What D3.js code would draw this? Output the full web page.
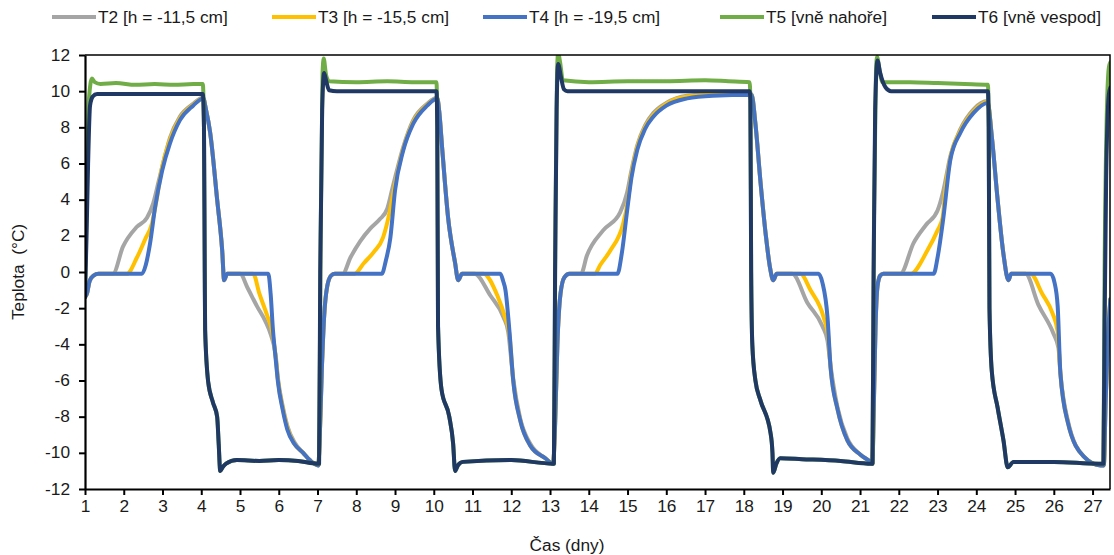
<!DOCTYPE html>
<html><head><meta charset="utf-8">
<script src="https://cdn.jsdelivr.net/npm/d3@7"></script>
<style>
html,body{margin:0;padding:0;background:#fff;}
svg{display:block;font-family:"Liberation Sans",Arial,sans-serif;}
</style></head><body>
<svg id="chart" width="1114" height="555"></svg>
<script>
// ---------- data (day, °C) ----------
const xTicks = d3.range(1, 28);
const yTicks = d3.range(-12, 13, 2);
const seriesNames = ["T2 [h = -11,5 cm]", "T3 [h = -15,5 cm]", "T4 [h = -19,5 cm]", "T5 [vně nahoře]", "T6 [vně vespod]"];
const seriesColors = ["#A5A5A5", "#FFC000", "#4472C4", "#70AD47", "#203864"];

const T4 = [
  [1.00,-1.4],[1.05,-1.2],[1.12,-0.5],[1.22,-0.2],[1.35,-0.1],[2.47,-0.1],[2.57,0.4],[2.68,1.6],[2.81,3.6],[2.99,5.6],[3.19,7.1],[3.45,8.4],[3.79,9.2],[4.05,9.6],
  [4.12,9.0],[4.23,7.7],[4.41,4.0],[4.54,1.2],[4.59,-0.45],[4.67,-0.1],[5.73,-0.1],[5.79,-1.2],[5.85,-3.2],[5.92,-4.8],[5.98,-6.1],[6.1,-7.6],[6.22,-8.7],[6.4,-9.5],[6.63,-10.0],[6.8,-10.4],[7.02,-10.7],
  [7.06,-9.0],[7.11,-5.5],[7.17,-2.5],[7.25,-0.8],[7.35,-0.2],[7.45,-0.1],[8.66,-0.1],[8.76,0.6],[8.88,1.9],[9.00,4.5],[9.21,6.7],[9.47,8.2],[9.83,9.2],[10.09,9.6],
  [10.14,8.9],[10.22,6.75],[10.37,3.0],[10.55,0.5],[10.63,-0.45],[10.73,-0.1],[11.72,-0.1],[11.79,-0.5],[11.85,-1.0],[11.95,-3.2],[12.05,-6.0],[12.23,-8.2],[12.49,-9.6],[12.88,-10.3],[13.08,-10.6],
  [13.13,-8.5],[13.19,-4.0],[13.27,-1.2],[13.37,-0.3],[13.5,-0.1],[14.74,-0.1],[14.85,1.0],[14.99,3.4],[15.1,5.2],[15.25,6.75],[15.45,7.9],[15.67,8.6],[16.0,9.2],[16.54,9.6],[17.2,9.75],[18.2,9.8],
  [18.3,8.2],[18.43,5.0],[18.57,2.0],[18.68,0.2],[18.76,-0.45],[18.85,-0.1],[19.93,-0.1],[20.03,-0.6],[20.16,-2.5],[20.24,-5.3],[20.42,-7.6],[20.67,-9.3],[21.01,-10.1],[21.27,-10.5],[21.32,-10.6],
  [21.35,-8.0],[21.4,-3.0],[21.45,-0.8],[21.52,-0.2],[21.6,-0.1],[22.9,-0.1],[23.0,0.8],[23.15,3.0],[23.33,6.2],[23.59,7.7],[23.93,8.8],[24.29,9.35],
  [24.4,7.5],[24.55,4.0],[24.7,1.0],[24.83,-0.45],[24.9,-0.1],[25.92,-0.1],[26.02,-0.6],[26.10,-1.9],[26.17,-5.6],[26.36,-8.3],[26.77,-10.2],[27.21,-10.7],[27.29,-10.7],
  [27.34,-7.0],[27.4,-3.5],[27.46,-1.5]
];
const T3 = [
  [1.00,-1.4],[1.05,-1.2],[1.12,-0.5],[1.22,-0.2],[1.35,-0.1],[2.08,-0.1],[2.34,0.8],[2.55,1.8],[2.73,2.7],[2.84,3.9],[2.99,5.8],[3.19,7.3],[3.45,8.5],[3.79,9.25],[4.05,9.6],
  [4.12,9.0],[4.23,7.7],[4.41,4.0],[4.54,1.2],[4.59,-0.45],[4.67,-0.1],[5.34,-0.1],[5.5,-1.2],[5.7,-2.4],[5.83,-3.3],[5.92,-4.7],[5.98,-6.0],[6.1,-7.5],[6.22,-8.6],[6.4,-9.5],[6.63,-10.0],[6.8,-10.4],[7.02,-10.7],
  [7.06,-9.0],[7.11,-5.5],[7.17,-2.5],[7.25,-0.8],[7.35,-0.2],[7.45,-0.1],[7.95,-0.1],[8.2,0.5],[8.45,1.1],[8.69,1.9],[8.85,3.2],[8.95,4.3],[9.21,6.8],[9.47,8.3],[9.83,9.25],[10.09,9.6],
  [10.14,8.9],[10.22,6.75],[10.37,3.0],[10.55,0.5],[10.63,-0.45],[10.73,-0.1],[11.28,-0.1],[11.64,-1.3],[11.84,-2.5],[11.95,-3.4],[12.05,-6.0],[12.23,-8.2],[12.49,-9.6],[12.88,-10.3],[13.08,-10.6],
  [13.13,-8.5],[13.19,-4.0],[13.27,-1.2],[13.37,-0.3],[13.5,-0.1],[14.15,-0.1],[14.3,0.4],[14.56,1.2],[14.89,2.7],[15.0,3.8],[15.1,5.4],[15.25,6.9],[15.45,8.0],[15.67,8.7],[16.0,9.3],[16.54,9.7],[17.2,9.8],[18.2,9.8],
  [18.3,8.2],[18.43,5.0],[18.57,2.0],[18.68,0.2],[18.76,-0.45],[18.85,-0.1],[19.46,-0.1],[19.72,-1.0],[20.06,-2.5],[20.18,-3.6],[20.24,-5.3],[20.42,-7.6],[20.67,-9.3],[21.01,-10.1],[21.27,-10.5],[21.32,-10.6],
  [21.35,-8.0],[21.4,-3.0],[21.45,-0.8],[21.52,-0.2],[21.6,-0.1],[22.3,-0.1],[22.74,1.2],[23.0,2.3],[23.13,3.0],[23.2,4.5],[23.33,6.3],[23.59,7.8],[23.93,8.9],[24.29,9.4],
  [24.4,7.5],[24.55,4.0],[24.7,1.0],[24.83,-0.45],[24.9,-0.1],[25.4,-0.1],[25.7,-1.2],[25.97,-2.3],[26.1,-3.3],[26.17,-5.6],[26.36,-8.3],[26.77,-10.2],[27.21,-10.7],[27.29,-10.7],
  [27.34,-7.0],[27.4,-3.5],[27.46,-1.5]
];
const T2 = [
  [1.00,-1.4],[1.05,-1.2],[1.12,-0.5],[1.22,-0.2],[1.35,-0.1],[1.72,-0.1],[1.98,1.4],[2.34,2.5],[2.6,3.0],[2.76,3.8],[2.9,5.0],[3.05,6.3],[3.19,7.4],[3.45,8.6],[3.79,9.3],[4.05,9.65],
  [4.12,9.0],[4.23,7.7],[4.41,4.0],[4.54,1.2],[4.59,-0.45],[4.67,-0.1],[5.0,-0.1],[5.2,-0.9],[5.44,-1.9],[5.65,-2.7],[5.8,-3.5],[5.92,-4.6],[5.98,-5.9],[6.1,-7.4],[6.22,-8.5],[6.4,-9.4],[6.63,-10.0],[6.8,-10.4],[7.02,-10.7],
  [7.06,-9.0],[7.11,-5.5],[7.17,-2.5],[7.25,-0.8],[7.35,-0.2],[7.45,-0.1],[7.65,-0.1],[7.85,0.8],[8.1,1.7],[8.36,2.4],[8.6,2.9],[8.8,3.5],[8.93,4.6],[9.21,6.9],[9.47,8.4],[9.83,9.3],[10.09,9.65],
  [10.14,8.9],[10.22,6.75],[10.37,3.0],[10.55,0.5],[10.63,-0.45],[10.73,-0.1],[11.05,-0.1],[11.46,-1.3],[11.8,-2.5],[11.92,-3.3],[12.05,-5.9],[12.23,-8.1],[12.49,-9.5],[12.88,-10.3],[13.08,-10.6],
  [13.13,-8.5],[13.19,-4.0],[13.27,-1.2],[13.37,-0.3],[13.5,-0.1],[13.8,-0.1],[13.95,0.9],[14.37,2.3],[14.81,3.3],[14.99,4.4],[15.1,5.6],[15.25,7.0],[15.45,8.1],[15.67,8.8],[16.0,9.35],[16.54,9.75],[17.2,9.85],[18.2,9.85],
  [18.3,8.2],[18.43,5.0],[18.57,2.0],[18.68,0.2],[18.76,-0.45],[18.85,-0.1],[19.25,-0.1],[19.64,-1.7],[20.03,-3.0],[20.16,-3.8],[20.24,-5.2],[20.42,-7.5],[20.67,-9.2],[21.01,-10.1],[21.27,-10.5],[21.32,-10.6],
  [21.35,-8.0],[21.4,-3.0],[21.45,-0.8],[21.52,-0.2],[21.6,-0.1],[22.04,-0.1],[22.38,1.6],[22.7,2.6],[23.0,3.4],[23.15,4.5],[23.33,6.4],[23.59,7.9],[23.93,9.0],[24.29,9.45],
  [24.4,7.5],[24.55,4.0],[24.7,1.0],[24.83,-0.45],[24.9,-0.1],[25.27,-0.1],[25.6,-1.8],[25.99,-3.4],[26.12,-4.2],[26.17,-5.6],[26.36,-8.2],[26.77,-10.2],[27.21,-10.7],[27.29,-10.7],
  [27.34,-7.0],[27.4,-3.5],[27.46,-1.5]
];
const T5 = [
  [1.00,-1.2],[1.05,5.0],[1.1,9.5],[1.18,10.7],[1.25,10.5],[1.4,10.4],[1.8,10.45],[2.3,10.35],[2.8,10.4],[3.3,10.35],[3.8,10.4],[4.04,10.4],
  [4.07,8.0],[4.09,0.0],[4.1,-3.2],[4.18,-6.1],[4.3,-7.2],[4.41,-8.0],[4.45,-9.5],[4.49,-11.0],[4.55,-10.8],[4.64,-10.6],[4.92,-10.4],[5.5,-10.45],[6.0,-10.4],[6.5,-10.45],[7.02,-10.6],
  [7.04,-10.6],[7.08,2.0],[7.13,11.0],[7.16,11.8],[7.22,10.9],[7.3,10.55],[8.0,10.5],[8.8,10.55],[9.5,10.5],[10.07,10.5],
  [10.09,8.0],[10.11,-3.0],[10.2,-6.5],[10.4,-8.0],[10.5,-9.5],[10.55,-11.0],[10.62,-10.7],[10.75,-10.5],[12.0,-10.4],[13.08,-10.6],
  [13.1,-10.6],[13.14,3.0],[13.18,11.0],[13.21,12.1],[13.26,11.6],[13.33,10.6],[14.0,10.5],[15.0,10.55],[16.0,10.55],[17.0,10.6],[17.6,10.55],[18.15,10.5],
  [18.17,9.5],[18.19,0.0],[18.22,-4.0],[18.3,-6.0],[18.43,-7.1],[18.69,-8.9],[18.74,-10.0],[18.76,-11.1],[18.84,-10.6],[18.94,-10.3],[19.5,-10.35],[20.5,-10.45],[21.3,-10.6],
  [21.32,-10.6],[21.36,3.0],[21.41,11.0],[21.44,11.9],[21.5,11.2],[21.58,10.5],[22.3,10.5],[23.0,10.45],[23.7,10.4],[24.3,10.35],
  [24.32,8.0],[24.34,-2.0],[24.4,-5.5],[24.55,-7.5],[24.7,-9.3],[24.81,-10.8],[24.96,-10.5],[26.0,-10.5],[27.16,-10.6],[27.28,-10.6],
  [27.31,0.0],[27.36,8.0],[27.42,11.3],[27.46,11.6]
];
const T6 = [
  [1.00,-1.4],[1.04,2.0],[1.08,6.0],[1.13,9.2],[1.2,9.7],[1.31,9.85],[2.0,9.85],[3.0,9.85],[4.04,9.85],
  [4.07,8.0],[4.09,0.0],[4.1,-3.2],[4.18,-6.1],[4.3,-7.2],[4.41,-8.0],[4.45,-9.5],[4.49,-11.0],[4.55,-10.8],[4.64,-10.6],[4.92,-10.4],[5.5,-10.45],[6.0,-10.4],[6.5,-10.45],[7.02,-10.6],
  [7.04,-10.6],[7.07,0.0],[7.12,9.0],[7.17,11.0],[7.22,10.6],[7.3,10.05],[7.5,10.0],[10.07,10.0],
  [10.09,8.0],[10.11,-3.0],[10.2,-6.5],[10.4,-8.0],[10.5,-9.5],[10.55,-11.0],[10.62,-10.7],[10.75,-10.5],[12.0,-10.4],[13.08,-10.6],
  [13.1,-10.6],[13.13,0.0],[13.17,9.0],[13.21,11.5],[13.28,10.8],[13.36,10.1],[13.45,10.0],[18.15,10.0],
  [18.17,9.5],[18.19,0.0],[18.22,-4.0],[18.3,-6.0],[18.43,-7.1],[18.69,-8.9],[18.74,-10.0],[18.76,-11.1],[18.84,-10.6],[18.94,-10.3],[19.5,-10.35],[20.5,-10.45],[21.3,-10.6],
  [21.32,-10.6],[21.35,0.0],[21.39,9.0],[21.45,11.7],[21.52,11.0],[21.66,10.2],[21.8,10.0],[24.3,10.0],
  [24.32,8.0],[24.34,-2.0],[24.4,-5.5],[24.55,-7.5],[24.7,-9.3],[24.81,-10.8],[24.96,-10.5],[26.0,-10.5],[27.16,-10.6],[27.28,-10.6],
  [27.31,-3.0],[27.35,5.0],[27.42,9.8],[27.46,10.2]
];
const seriesData = [T2, T3, T4, T5, T6];

// ---------- layout ----------
const W = 1114, H = 555;
const m = {left: 85, right: 4, top: 55, bottom: 66};
const FONT = 16, STRETCH = 1.08;
const svg = d3.select("#chart");
const x = d3.scaleLinear().domain([1, 27.45]).range([m.left, W - m.right]);
const y = d3.scaleLinear().domain([-12, 12]).range([H - m.bottom, m.top]);

svg.append("defs").append("clipPath").attr("id", "clip")
  .append("rect").attr("x", m.left).attr("y", m.top)
  .attr("width", W - m.right - m.left).attr("height", H - m.bottom - m.top);

// series
const line = d3.line().x(d => x(d[0])).y(d => y(d[1])).curve(d3.curveMonotoneX);
const g = svg.append("g").attr("clip-path", "url(#clip)");
seriesData.forEach((s, i) => {
  g.append("path").datum(s).attr("d", line)
    .attr("fill", "none").attr("stroke", seriesColors[i])
    .attr("stroke-width", 4).attr("stroke-linejoin", "round").attr("stroke-linecap", "round");
});

// frame (top/right)
svg.append("path")
  .attr("d", `M${m.left},${m.top}H${W - m.right}V${H - m.bottom}`)
  .attr("fill", "none").attr("stroke", "#000").attr("stroke-width", 1.5);

// axes
const xAxis = svg.append("g").attr("transform", `translate(0,${H - m.bottom})`)
  .call(d3.axisBottom(x).tickValues(xTicks).tickFormat(d3.format("d")).tickSizeInner(6).tickSizeOuter(0).tickPadding(6));
const yAxis = svg.append("g").attr("transform", `translate(${m.left},0)`)
  .call(d3.axisLeft(y).tickValues(yTicks).tickFormat(d => String(d)).tickSizeInner(6).tickSizeOuter(0).tickPadding(9));
[xAxis, yAxis].forEach(a => {
  a.select(".domain").attr("stroke", "#000").attr("stroke-width", 2.2);
  a.selectAll(".tick line").attr("stroke", "#000").attr("stroke-width", 2);
  a.selectAll(".tick text").attr("font-size", FONT).attr("fill", "#1a1a1a")
    .attr("font-family", "'Liberation Sans', Arial, sans-serif");
});

// axis titles
svg.append("text").attr("x", 567).attr("y", 551).attr("text-anchor", "middle")
  .attr("font-size", FONT).attr("fill", "#1a1a1a").text("Čas (dny)");
svg.append("text").attr("transform", "translate(24,272) rotate(-90)").attr("text-anchor", "middle")
  .attr("font-size", FONT).attr("fill", "#1a1a1a").style("white-space", "pre").text("Teplota  (°C)");

// legend
const legendX = [52, 272, 483, 720, 932];
const lg = svg.append("g");
seriesNames.forEach((n, i) => {
  lg.append("line").attr("x1", legendX[i]).attr("x2", legendX[i] + 44)
    .attr("y1", 17).attr("y2", 17).attr("stroke", seriesColors[i]).attr("stroke-width", 4);
  lg.append("text").attr("x", legendX[i] + 46).attr("y", 23)
    .attr("font-size", FONT).attr("fill", "#1a1a1a").text(n);
});

// slight horizontal stretch of all text, as in the reference
svg.selectAll("text").each(function () {
  const L = this.getComputedTextLength();
  this.setAttribute("textLength", (L * STRETCH).toFixed(1));
  this.setAttribute("lengthAdjust", "spacingAndGlyphs");
});
</script>
</body></html>
